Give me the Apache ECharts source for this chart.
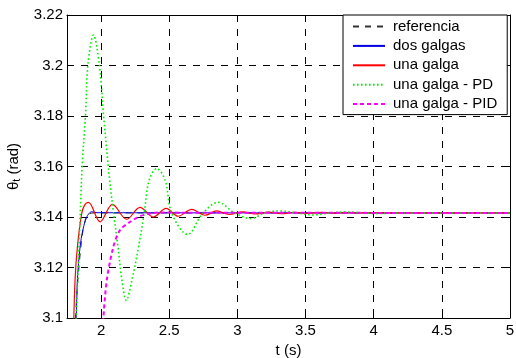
<!DOCTYPE html>
<html>
<head>
<meta charset="utf-8">
<script src="https://cdn.jsdelivr.net/npm/echarts@6/dist/echarts.min.js"></script>
<style>
  html, body { margin: 0; padding: 0; background: #fff; }
  #chart { width: 516px; height: 358px; }
</style>
</head>
<body>
<div id="chart"></div>
<script>
const xTicks = [2, 2.5, 3, 3.5, 4, 4.5, 5];

const refT = [1.80, 1.83, 1.86, 1.885, 1.91, 1.95, 5.0];
const refTheta = [3.090, 3.115, 3.132, 3.139, 3.1412, 3.1416, 3.1416];

const dosT = [1.80, 1.817, 1.826, 1.846, 1.866, 1.895, 1.93, 1.97, 5.0];
const dosTheta = [3.092, 3.100, 3.115, 3.1282, 3.1348, 3.140, 3.1421, 3.1417, 3.1416];

const unaT = [1.798, 1.809, 1.826, 1.858, 1.88, 1.907, 1.993, 2.083, 2.188, 2.286, 2.383, 2.477,
  2.565, 2.665, 2.762, 2.848, 2.94, 3.039, 3.13, 3.23, 3.32, 3.42, 3.51, 3.61, 3.70, 3.80, 3.9, 5.0];
const unaTheta = [3.095, 3.115, 3.128, 3.1414, 3.1448, 3.1458, 3.1381, 3.1450, 3.1391, 3.1438, 3.1400, 3.1434,
  3.1403, 3.1430, 3.1407, 3.1424, 3.1410, 3.1420, 3.1412, 3.1419, 3.1413, 3.1418, 3.1414, 3.1418, 3.1415, 3.1417, 3.1416, 3.1416];

const pdT = [1.81, 1.817, 1.84, 1.861, 1.885, 1.905, 1.944, 1.988, 2.019, 2.063, 2.092, 2.124, 2.153, 2.185,
  2.226, 2.275, 2.316, 2.353, 2.409, 2.47, 2.519, 2.635, 2.745, 2.86, 2.98, 3.10, 3.2, 3.31, 3.44, 3.56,
  3.68, 3.80, 3.92, 4.04, 4.2, 5.0];
const pdTheta = [3.090, 3.100, 3.131, 3.1599, 3.1797, 3.2010, 3.2121, 3.2000, 3.1797, 3.1546, 3.1414, 3.1282, 3.115, 3.107,
  3.115, 3.1282, 3.1414, 3.1546, 3.1592, 3.1546, 3.1414, 3.1331, 3.1414, 3.1458, 3.1416, 3.1394, 3.1416, 3.1424, 3.1416, 3.1408,
  3.1416, 3.1420, 3.1416, 3.1414, 3.1416, 3.1416];

const pidT = [2.01, 2.017, 2.042, 2.090, 2.139, 2.213, 2.286, 2.359, 2.45, 2.6, 5.0];
const pidTheta = [3.090, 3.100, 3.115, 3.1282, 3.1348, 3.1381, 3.1403, 3.1414, 3.1418, 3.1417, 3.1416];

const FONT = 'Liberation Sans, Arial, sans-serif';

function pairs(xs, ys) {
  return xs.map((x, i) => [x, ys[i]]);
}

function lineSeries(name, xs, ys, color, width, type, smooth) {
  return {
    name,
    type: 'line',
    data: pairs(xs, ys),
    symbol: 'none',
    smooth,
    clip: true,
    lineStyle: { color, width, type },
    itemStyle: { color },
    z: 3,
  };
}

const chart = echarts.init(document.getElementById('chart'), null, { renderer: 'canvas' });

const gridDash = { color: '#000', width: 1, type: [7, 7] };
const axisLine = { show: true, onZero: false, lineStyle: { color: '#000', width: 1 } };
const tick = { show: true, inside: true, length: 5, lineStyle: { color: '#000' } };

chart.setOption({
  animation: false,
  backgroundColor: '#fff',
  grid: { left: 67, right: 6, top: 15, bottom: 40, outerBoundsMode: 'none', containLabel: false },
  xAxis: [
    {
      type: 'value',
      min: 1.75,
      max: 5,
      position: 'bottom',
      axisLine,
      axisTick: { ...tick, customValues: xTicks },
      axisLabel: { customValues: xTicks, color: '#000', fontSize: 15, fontFamily: FONT, margin: 5 },
      splitLine: { show: true, lineStyle: gridDash },
      name: 't (s)',
      nameLocation: 'middle',
      nameGap: 25,
      nameTextStyle: { color: '#000', fontSize: 15, fontFamily: FONT },
    },
    {
      type: 'value',
      min: 1.75,
      max: 5,
      position: 'top',
      axisLine,
      axisTick: { ...tick, customValues: xTicks },
      axisLabel: { show: false },
      splitLine: { show: false },
    },
  ],
  yAxis: [
    {
      type: 'value',
      min: 3.1,
      max: 3.22,
      interval: 0.02,
      position: 'left',
      axisLine,
      axisTick: tick,
      axisLabel: { color: '#000', fontSize: 15, fontFamily: FONT, margin: 4 },
      splitLine: { show: true, lineStyle: gridDash },
      name: '{a|θ}{b|t}{a| (rad)}',
      nameLocation: 'middle',
      nameRotate: 90,
      nameGap: 34,
      nameTextStyle: {
        rich: {
          a: { color: '#000', fontSize: 15, fontFamily: FONT },
          b: { color: '#000', fontSize: 11, fontFamily: FONT, verticalAlign: 'bottom', padding: [8, 0, 0, 0] },
        },
      },
    },
    {
      type: 'value',
      min: 3.1,
      max: 3.22,
      interval: 0.02,
      position: 'right',
      axisLine,
      axisTick: tick,
      axisLabel: { show: false },
      splitLine: { show: false },
    },
  ],
  legend: {
    orient: 'vertical',
    left: 343,
    top: 15,
    padding: [4, 10, 3, 9],
    itemWidth: 32,
    itemHeight: 14,
    itemGap: 4.4,
    backgroundColor: '#fff',
    borderColor: '#000',
    borderWidth: 1,
    borderRadius: 0,
    itemStyle: { opacity: 0 },
    textStyle: { color: '#000', fontSize: 15, fontFamily: FONT, padding: [0, 0, 0, 3] },
    data: ['referencia', 'dos galgas', 'una galga', 'una galga - PD', 'una galga - PID'],
    z: 10,
  },
  series: [
    lineSeries('referencia', refT, refTheta, '#333', 1, [6, 6], 0.3),
    lineSeries('dos galgas', dosT, dosTheta, '#0000e0', 1, 'solid', 0.3),
    lineSeries('una galga', unaT, unaTheta, '#ff0000', 1.2, 'solid', 0.35),
    lineSeries('una galga - PD', pdT, pdTheta, '#00ee00', 1.6, [1.6, 2.4], 0.35),
    lineSeries('una galga - PID', pidT, pidTheta, '#ff00ff', 2, [4, 3], 0.3),
  ],
});
</script>
</body>
</html>
